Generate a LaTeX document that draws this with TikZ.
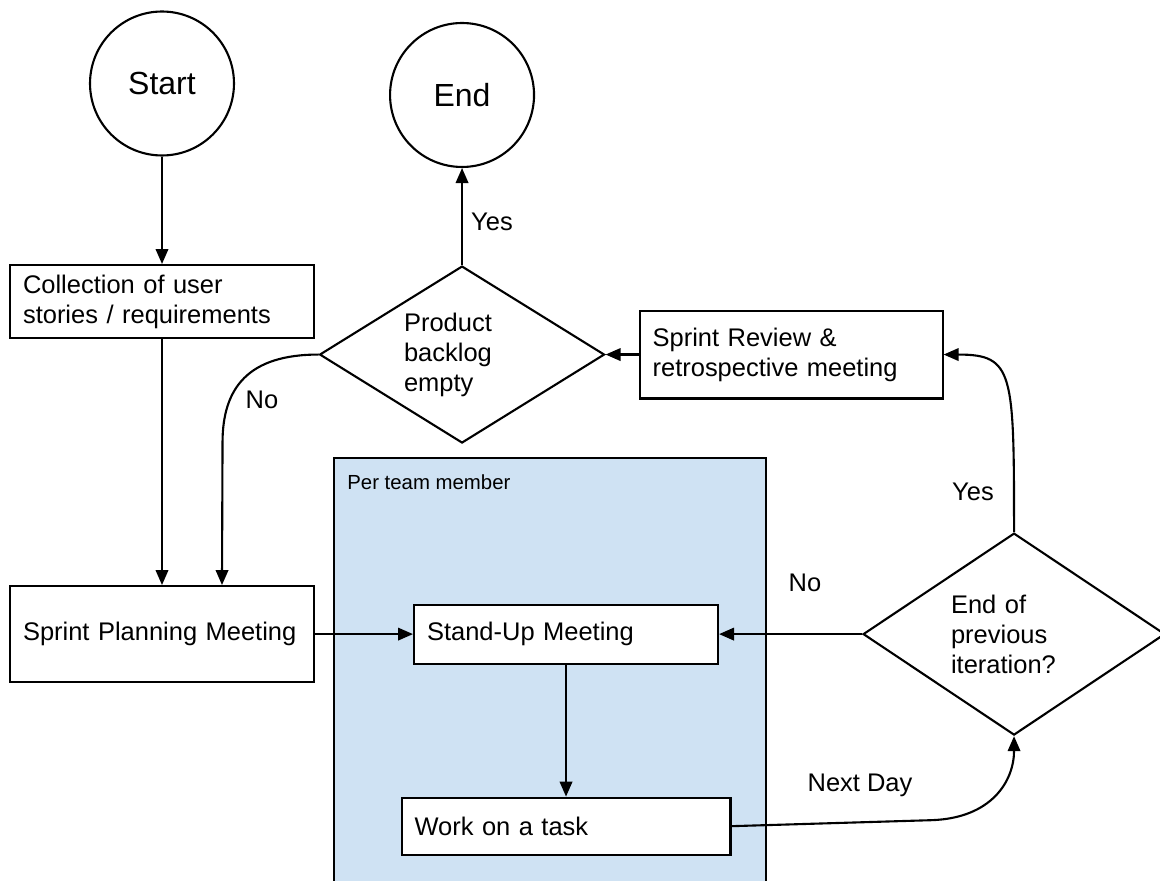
\documentclass[tikz,border=0pt]{standalone}
\usepackage{fontspec}
\setmainfont{Liberation Sans}
\usepackage{xcolor}
\usetikzlibrary{
  positioning,
  shapes.geometric,
  arrows.meta
}
\definecolor{teamblue}{HTML}{CFE2F3}
\newcommand{\bodyfont}{\fontsize{14.5pt}{17pt}\selectfont}
\newcommand{\bigfont}{\fontsize{18.2pt}{21pt}\selectfont}
\newcommand{\smallfont}{\fontsize{11.6pt}{14pt}\selectfont}

\begin{document}
\begin{tikzpicture}[x=0.02cm, y=-0.02cm, every node/.style={font=\bodyfont},
  terminal/.style={draw, circle, line width=1.2pt, minimum size=2.88cm, inner sep=0pt, font=\bigfont},
  stepbox/.style={draw, fill=white, line width=1.2pt, align=left, inner xsep=0.26cm, inner ysep=0pt},
  decision/.style={draw, diamond, fill=white, line width=1.2pt, align=left, inner sep=0pt},
  teambox/.style={draw, fill=teamblue, line width=1.2pt, minimum width=8.64cm, minimum height=9cm, anchor=north west},
  lbl/.style={inner sep=0pt},
  arrow/.style={line width=1.2pt, -{Triangle[length=0.3cm, width=0.25cm]}}
]
\path[use as bounding box, clip] (0,0) rectangle (1160,881);

% Team area
\node[teambox] (team) at (333,457) {};
\node[lbl, font=\smallfont, anchor=west] (teamlabel) at ([xshift=0.28cm, yshift=-0.5cm]team.north west) {Per team member};

% Flow
\node[terminal] (start) at (162,83.5) {Start};
\node[stepbox, text width=5.56cm, minimum height=1.46cm, below=2.15cm of start] (collect) {Collection of user\\stories / requirements};
\node[stepbox, text width=5.56cm, minimum height=1.92cm, below=4.92cm of collect] (plan) {Sprint Planning Meeting};
\node[terminal, right=3.08cm of start, yshift=-0.23cm] (endnode) {End};
\node[decision, text width=2.32cm, minimum width=5.7cm, minimum height=3.54cm, aspect=1.61, below=1.94cm of endnode] (product) {Product\\backlog\\empty};
\node[stepbox, text width=5.54cm, minimum height=1.76cm, right=0.66cm of product] (review) {Sprint Review \&\\retrospective meeting};
\node[stepbox, text width=5.56cm, minimum height=1.18cm, right=1.96cm of plan] (standup) {Stand-Up Meeting};
\node[stepbox, text width=6.06cm, minimum height=1.14cm, below=2.64cm of standup] (work) {Work on a task};
\node[decision, text width=2.52cm, minimum width=6.04cm, minimum height=4.04cm, aspect=1.5, right=2.86cm of standup] (iter) {End of\\previous\\iteration?};

% Labels
\node[lbl] (yesend) at (492,222) {Yes};
\node[lbl] (noback) at (262,400) {No};
\node[lbl] (yesrev) at (973,492) {Yes};
\node[lbl] (nostand) at (805,583) {No};
\node[lbl] (nextday) at (860,785) {Next Day};

% Arrows
\draw[arrow] (start) -- (collect);
\draw[arrow] (collect) -- (plan);
\draw[arrow] (plan) -- (standup);
\draw[arrow] (standup) -- (work);
\draw[arrow] (work.east) -- ++(200,-6) .. controls +(60,-2) and +(0,45) .. (iter.south);
\draw[arrow] (iter) -- (standup);
\draw[arrow] (iter.north) .. controls +(0,-160) and +(70,0) .. (review.east);
\draw[arrow] (review) -- (product);
\draw[arrow] (product) -- (endnode);
\draw[arrow] (product.west) .. controls +(-70,0) and +(0,-55) .. ++(-96,88) -- ([xshift=1.2cm]plan.north);

\end{tikzpicture}
\end{document}
